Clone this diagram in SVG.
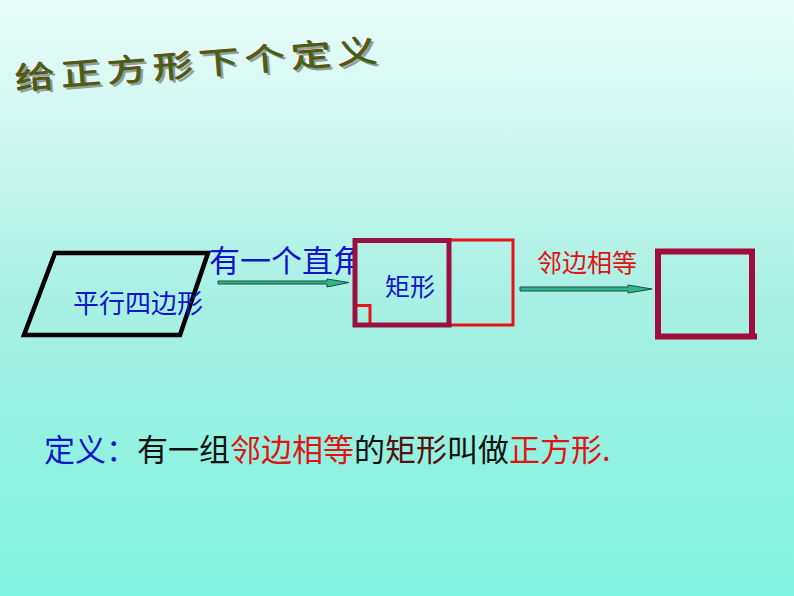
<svg xmlns="http://www.w3.org/2000/svg" width="794" height="596" viewBox="0 0 794 596">
<defs>
  <linearGradient id="bg" x1="0" y1="0" x2="0" y2="1">
    <stop offset="0" stop-color="#eafdf9"/>
    <stop offset="0.5" stop-color="#a9f0e4"/>
    <stop offset="1" stop-color="#7ef3dd"/>
  </linearGradient>
  <clipPath id="clipAngle">
    <rect x="0" y="200" width="353" height="100"/>
  </clipPath>
  <style>
    .cjk { font-family: "Noto Sans CJK SC", "Noto Sans", sans-serif; }
    .blue { fill: #1414c8; }
    .red { fill: #e01414; }
    .blk { fill: #111111; }
    .dred { fill: #5a1010; }
    .maroon { stroke: #9a1040; stroke-width: 5; fill: none; }
    .redline { stroke: #e81414; stroke-width: 3; fill: none; }
    .arrow { fill: #2fb58c; stroke: #1d4d40; stroke-width: 1; }
  </style>
</defs>
<rect x="0" y="0" width="794" height="596" fill="url(#bg)"/>

<g id="title" class="cjk" font-size="35" transform="translate(16,90) rotate(-4.5) scale(1.15,0.88)">
  <text x="2" y="2.8" fill="#9a9a9a" textLength="316" lengthAdjust="spacing">给正方形下个定义</text>
  <text x="-0.7" y="-0.9" fill="#9a2020" textLength="316" lengthAdjust="spacing">给正方形下个定义</text>
  <text x="0" y="0" fill="#3d6614" stroke="#3d6614" stroke-width="0.3" textLength="316" lengthAdjust="spacing">给正方形下个定义</text>
</g>

<g id="parallelogram">
  <polygon points="55,253 208,253 180,335 24,335" fill="none" stroke="#000" stroke-width="4.5" stroke-linejoin="miter"/>
  <text class="cjk blue" x="73" y="313" font-size="26">平行四边形</text>
</g>

<g id="label-right-angle">
  <text class="cjk blue" x="209" y="272" font-size="31" clip-path="url(#clipAngle)">有一个直角</text>
</g>

<g id="rectangle">
  <rect x="449" y="240" width="64" height="85" class="redline"/>
  <path d="M370,325 V305.5 H355" class="redline"/>
  <rect x="355" y="240.5" width="94" height="84.5" class="maroon"/>
  <text class="cjk blue" x="385" y="296" font-size="25">矩形</text>
</g>

<g id="label-adjacent">
  <text class="cjk red" x="537" y="272" font-size="25">邻边相等</text>
</g>

<g id="square">
  <path d="M655,251.5 H755 M658,249 V339 M752,249 V339 M655,336.5 H757" stroke="#a00c3c" stroke-width="6" fill="none"/>
</g>

<g id="connectors">
  <polygon class="arrow" points="218,281 327,281 327,279 349,282.5 327,287 327,284 218,284"/>
  <polygon class="arrow" points="520,287 628,287 628,285 652,289 628,293 628,291 520,291"/>
</g>

<g id="definition">
  <text class="cjk" x="44" y="461" font-size="31"><tspan class="blue">定义：</tspan><tspan class="blk">有一组</tspan><tspan class="red">邻边相等</tspan><tspan class="blk">的</tspan><tspan class="dred">矩形</tspan><tspan class="blk">叫做</tspan><tspan class="red">正方形.</tspan></text>
</g>
</svg>
